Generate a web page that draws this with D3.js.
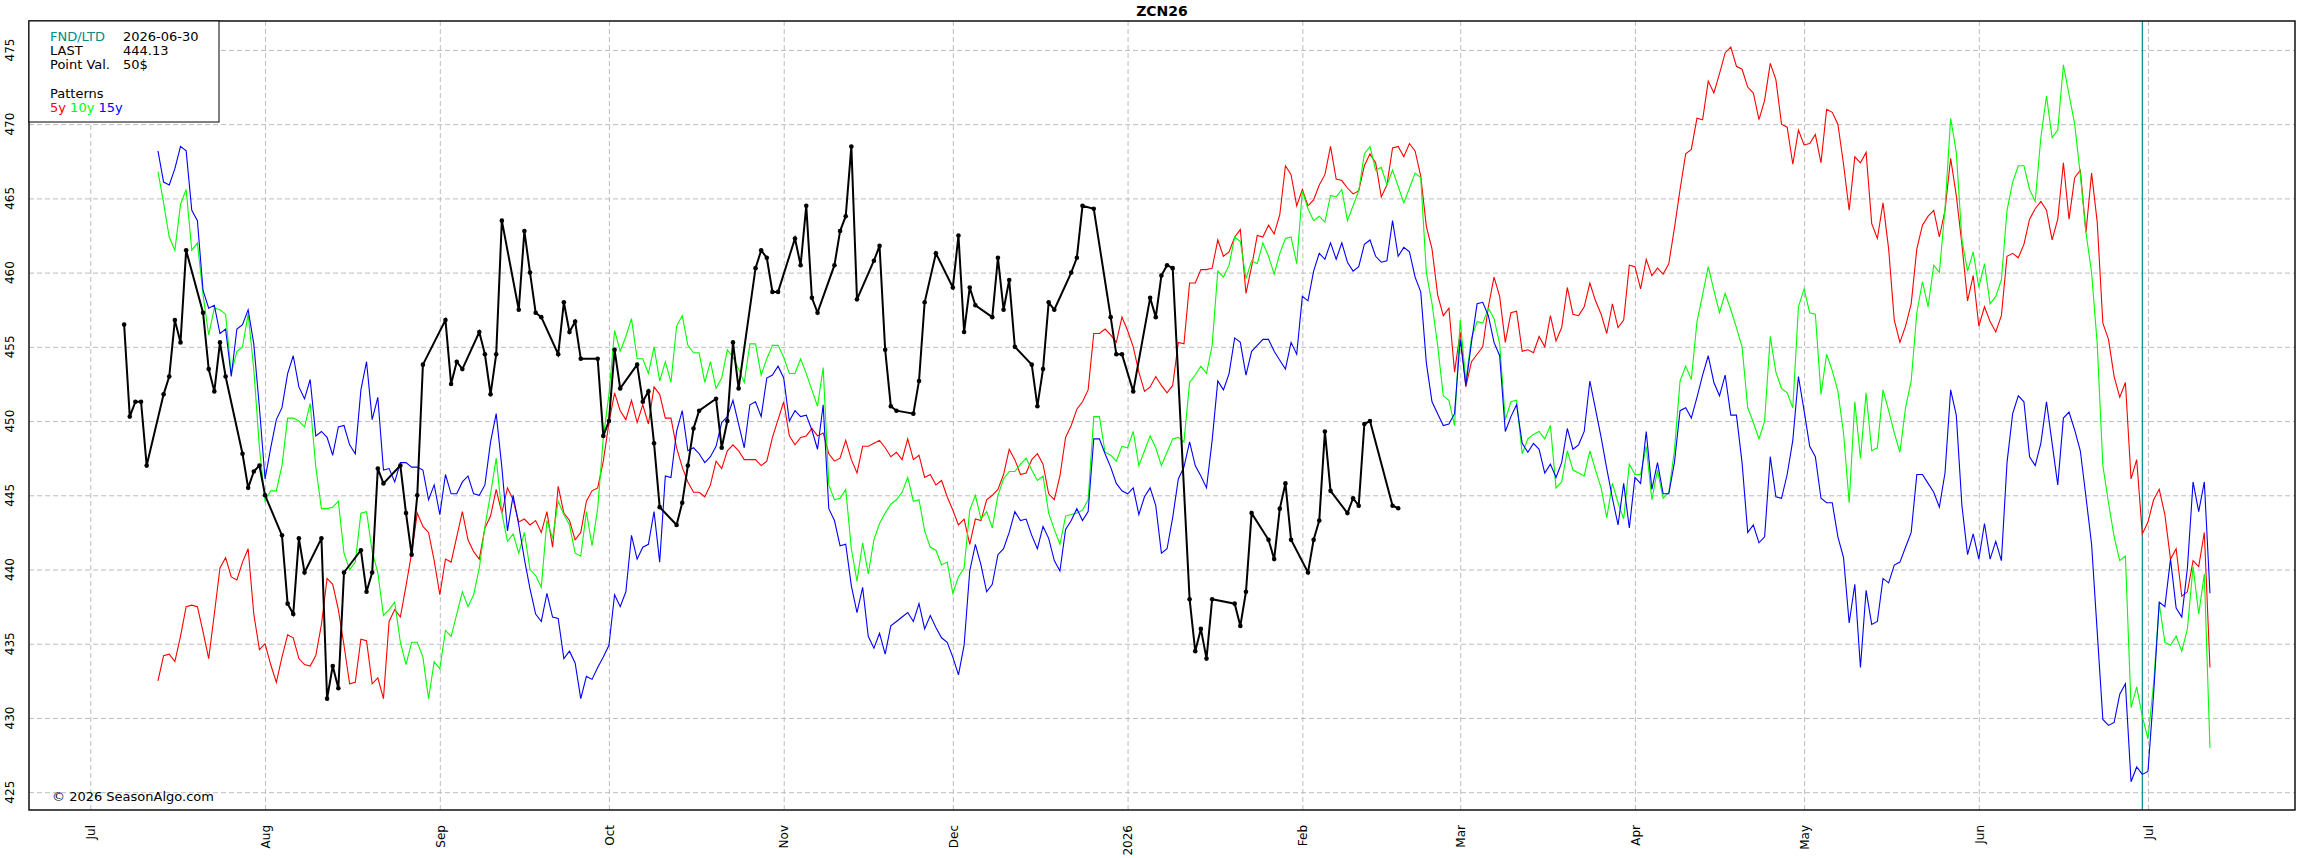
<!DOCTYPE html>
<html>
<head>
<meta charset="utf-8">
<script src="https://cdn.jsdelivr.net/npm/d3@7"></script>
<style>
  body { margin: 0; background: #fff; }
  text { font-family: "DejaVu Sans", sans-serif; }
</style>
</head>
<body>
<script>
// ZCN26 seasonal chart: actual contract (black) + 5y / 10y / 15y patterns

var title = "ZCN26";
var fndDate = "2026-06-30";
var lastPrice = "444.13";
var pointVal = "50$";

// month tick labels (Jan shows the year)
var monthTicks = ["2025-07-01","2025-08-01","2025-09-01","2025-10-01","2025-11-01","2025-12-01",
                  "2026-01-01","2026-02-01","2026-03-01","2026-04-01","2026-05-01","2026-06-01","2026-07-01"];
var monthLabels = ["Jul","Aug","Sep","Oct","Nov","Dec","2026","Feb","Mar","Apr","May","Jun","Jul"];
var yTicks = [425, 430, 435, 440, 445, 450, 455, 460, 465, 470, 475];

// patterns: one value per calendar day starting at patternStart
var patternStart = "2025-07-13";
var p5y = [
  // Jul 13-31
  432.5,434.2,434.3,433.8,435.5,437.5,437.6,437.5,435.8,434.0,437.0,440.1,440.8,439.5,439.3,440.5,441.4,437.0,434.6,
  // Aug
  435.0,433.6,432.4,434.1,435.6,435.4,434.0,433.6,433.5,434.2,436.3,439.4,439.0,437.3,434.9,432.3,432.4,435.3,435.2,432.3,
  432.7,431.3,436.5,437.3,436.8,438.9,441.1,443.8,442.9,442.5,440.6,
  // Sep
  438.3,440.7,440.5,442.2,443.9,442.0,441.2,440.7,442.8,443.6,445.4,443.8,445.5,444.7,443.2,443.4,443.0,443.3,442.5,443.9,
  441.5,445.6,443.8,443.3,442.0,442.5,444.6,445.3,445.5,447.3,
  // Oct
  449.9,451.9,450.7,450.1,451.4,449.9,451.1,449.8,452.3,451.8,450.2,450.2,448.2,446.9,445.9,445.2,445.2,444.9,445.7,447.3,
  446.8,448.0,448.4,448.0,447.4,447.4,447.4,447.0,447.3,448.9,450.1,
  // Nov
  451.3,449.0,448.4,448.9,449.0,449.5,449.0,449.2,447.8,447.3,447.5,448.7,447.4,446.5,448.3,448.3,448.5,448.7,448.2,447.6,
  447.9,447.4,448.8,447.4,447.7,446.2,446.4,445.7,446.0,444.9,
  // Dec
  444.0,443.0,443.4,441.7,443.4,443.3,444.7,445.0,445.4,446.4,448.1,447.4,446.4,446.5,447.4,447.8,447.1,445.1,444.7,446.3,
  448.9,449.7,450.8,451.3,452.1,455.9,455.9,456.2,455.8,455.3,457.0,
  // Jan
  456.1,455.0,453.3,452.0,452.3,453.0,452.4,451.9,452.4,455.3,455.2,459.3,459.3,460.2,460.2,460.3,462.2,461.1,461.4,462.4,
  462.9,458.6,460.4,462.5,462.4,463.2,462.6,463.9,467.2,466.6,464.5,
  // Feb
  465.6,464.5,464.9,465.9,466.6,468.5,466.3,466.2,465.7,465.3,465.5,467.2,468.0,467.4,465.1,465.9,468.4,468.5,467.8,468.7,
  468.2,466.5,463.1,461.6,458.5,457.1,457.6,453.3,
  // Mar
  456.0,452.3,454.0,454.5,455.0,457.7,459.7,458.4,455.3,457.3,457.4,454.7,454.8,454.6,455.7,455.0,457.1,455.4,456.3,459.0,
  457.2,457.1,457.7,459.3,458.1,457.2,455.9,457.9,456.3,456.8,460.5,
  // Apr
  460.4,458.9,460.9,459.8,460.3,459.9,460.6,463.0,465.6,468.0,468.3,470.4,470.3,472.9,472.1,473.4,474.8,475.2,473.9,473.7,
  472.5,472.1,470.3,471.6,474.1,473.0,470.0,469.8,467.3,469.6,
  // May
  468.6,468.7,469.3,467.4,471.0,470.8,470.0,467.3,464.2,467.8,467.4,468.1,463.3,462.3,464.7,461.6,456.8,455.3,456.4,457.9,
  461.6,463.2,463.8,464.2,462.4,464.2,467.7,465.2,461.9,458.1,459.8,
  // Jun
  456.4,457.7,456.7,456.0,457.1,461.1,461.3,461.0,461.9,463.6,464.3,464.8,464.2,462.2,463.6,467.4,463.6,466.4,466.9,462.7,
  466.7,463.4,456.6,455.5,453.0,451.6,452.6,446.1,447.4,442.4,
  // Jul 1-12
  443.2,444.7,445.4,443.7,440.7,441.4,438.2,438.5,440.6,440.2,442.5,433.4
];
var p10y = [
  466.8,464.7,462.4,461.5,464.6,465.6,461.5,462.0,458.5,455.8,457.6,457.5,457.2,453.2,454.7,455.0,457.2,453.5,448.2,
  444.6,445.3,445.3,447.0,450.2,450.2,450.0,449.6,451.2,446.9,444.1,444.1,444.2,444.6,441.1,440.0,440.5,443.8,443.9,441.2,
  439.8,436.9,437.3,437.8,435.1,433.6,435.1,435.1,434.1,431.3,433.8,
  433.3,435.9,435.5,437.0,438.5,437.5,438.3,440.1,442.9,445.1,447.5,443.8,441.9,442.4,441.1,442.5,440.0,439.6,438.8,443.3,
  442.1,444.6,443.7,443.0,441.1,440.9,443.9,441.6,444.1,448.9,
  451.8,456.1,454.7,455.7,456.9,454.2,454.2,453.2,455.0,452.7,454.0,452.6,456.4,457.1,455.1,454.6,454.6,452.6,454.0,452.2,
  452.9,454.8,454.3,453.5,452.6,455.2,455.2,453.1,454.2,455.1,455.1,
  454.3,453.2,453.2,454.2,453.2,452.1,451.0,453.6,445.7,444.7,444.8,445.4,441.4,439.2,441.8,439.7,442.0,443.1,443.8,444.4,
  444.7,445.2,446.2,444.6,444.7,442.6,441.5,441.3,440.3,440.5,
  438.4,439.5,440.1,444.0,445.0,443.4,443.9,442.8,445.0,446.1,446.6,446.6,447.1,447.5,446.7,446.0,446.3,443.8,442.7,441.7,
  443.6,443.7,443.8,444.0,444.7,450.3,450.3,447.9,447.7,447.3,448.3,
  448.2,449.3,447.0,448.0,449.0,448.2,447.0,447.9,448.8,448.9,448.6,452.6,453.1,453.7,453.2,455.1,460.1,459.7,460.5,462.4,
  462.1,459.6,460.8,460.6,462.0,461.1,459.9,461.3,462.3,462.4,460.6,
  465.5,464.3,463.5,463.8,463.4,465.2,465.1,465.6,463.5,464.5,465.5,468.0,468.5,466.9,467.1,465.9,466.9,465.8,464.7,465.7,
  466.7,466.4,460.0,457.9,455.1,451.7,451.4,449.7,
  456.8,452.7,455.6,456.7,456.6,457.6,456.9,455.2,450.1,451.3,451.4,447.8,448.8,449.1,449.3,448.8,449.7,445.5,445.9,448.0,
  446.7,446.5,446.3,448.0,446.7,445.5,443.5,445.8,444.5,443.4,447.1,
  446.4,446.4,448.3,444.7,446.7,444.8,445.2,448.0,452.7,453.7,452.8,456.7,458.5,460.4,458.8,457.3,458.6,457.5,456.3,455.0,
  450.9,449.9,448.8,450.0,455.7,453.3,452.2,451.9,450.9,457.7,
  458.9,457.3,457.2,451.8,454.5,453.4,452.0,449.2,444.5,451.3,447.5,451.9,448.0,448.2,452.1,450.7,449.2,447.9,450.9,452.7,
  457.3,459.4,457.7,460.5,460.0,464.3,470.4,468.1,462.2,460.1,461.4,
  459.0,460.6,457.9,458.4,459.5,464.2,466.1,467.2,467.2,465.6,464.8,469.1,471.9,469.1,469.6,474.0,472.0,470.0,466.6,462.7,
  460.0,455.2,447.0,444.5,442.2,440.6,440.9,430.7,432.1,430.1,
  428.6,432.3,437.7,435.1,434.9,435.5,434.5,436.0,440.2,437.0,439.7,428.0
];
var p15y = [
  468.2,466.1,465.9,467.0,468.5,468.2,464.2,463.5,458.8,457.6,457.8,455.9,456.2,453.0,456.2,456.5,457.5,455.2,450.9,
  446.1,448.2,450.1,450.9,453.2,454.4,452.3,451.5,452.8,449.0,449.3,448.9,447.7,449.6,449.7,448.4,447.8,452.1,454.0,450.1,
  451.6,446.7,446.8,445.9,447.2,447.2,446.9,446.9,446.7,444.7,445.7,
  443.7,446.4,445.1,445.1,445.9,446.3,445.1,445.0,445.7,448.6,450.5,446.9,442.6,445.0,443.0,440.7,438.7,437.0,436.5,438.4,
  436.8,436.7,434.0,434.5,433.7,431.3,432.8,432.6,433.4,434.1,
  434.9,438.3,437.5,438.5,442.3,440.7,441.5,441.7,443.9,440.5,446.3,446.2,449.3,450.7,448.0,448.2,447.8,447.2,447.6,448.3,
  449.9,450.3,451.4,449.8,448.2,451.1,451.3,450.3,452.9,453.1,453.7,
  452.9,450.0,450.7,450.3,450.4,449.4,448.1,451.1,444.1,443.3,441.6,441.7,438.9,437.1,438.8,435.5,434.7,435.7,434.3,436.2,
  436.5,436.8,437.1,436.5,437.7,436.0,436.9,436.1,435.4,435.1,
  434.1,432.9,434.9,439.9,441.7,440.3,438.5,439.0,441.0,441.4,442.5,443.9,443.3,443.4,442.3,441.4,442.9,442.1,440.6,439.9,
  442.7,443.3,444.1,443.3,443.9,448.8,448.8,447.8,446.9,445.8,445.3,
  445.1,445.5,443.7,444.9,445.5,444.3,441.1,441.4,443.5,446.1,446.9,448.6,447.0,446.3,445.5,448.7,452.7,452.1,453.2,455.6,
  455.3,453.1,454.7,455.1,455.5,455.5,454.7,454.1,453.5,455.3,454.5,
  458.4,458.1,460.1,461.3,460.9,462.0,460.9,462.0,460.7,460.1,460.4,461.9,462.2,461.1,460.7,460.8,463.5,461.1,461.7,461.4,
  459.7,458.7,453.9,451.3,450.5,449.7,449.8,450.5,
  455.5,452.4,455.3,457.9,458.0,457.1,455.3,454.4,449.3,450.3,451.1,448.5,447.9,448.5,448.1,446.5,447.1,446.2,447.2,449.5,
  448.1,448.4,449.3,452.7,450.8,448.9,446.8,444.8,443.0,445.8,442.8,
  446.2,445.8,449.3,445.4,447.2,445.1,445.1,447.2,450.7,450.9,450.2,451.6,453.1,454.4,452.6,451.7,453.1,450.4,450.4,447.2,
  442.5,443.0,441.8,442.2,447.6,444.9,444.8,446.4,448.7,453.0,
  450.7,448.3,447.6,444.8,444.5,444.5,442.2,440.8,436.4,439.0,433.4,438.6,436.3,436.5,439.4,439.1,440.3,440.5,441.5,442.5,
  446.4,446.4,445.8,445.2,444.2,446.5,452.1,450.4,444.3,441.0,442.4,
  440.7,443.1,440.7,441.9,440.6,447.2,450.5,451.7,451.3,447.6,447.0,448.5,451.3,448.5,445.7,450.2,450.6,449.4,448.0,444.9,
  441.7,435.8,429.9,429.5,429.7,431.6,432.3,425.7,426.7,426.2,
  426.4,431.6,437.8,437.5,440.7,437.4,436.8,440.1,445.9,443.9,445.9,438.4
];

// actual ZCN26 daily closes
var actualDates = [
  "2025-07-07","2025-07-08","2025-07-09","2025-07-10","2025-07-11","2025-07-14","2025-07-15","2025-07-16","2025-07-17","2025-07-18",
  "2025-07-21","2025-07-22","2025-07-23","2025-07-24","2025-07-25","2025-07-28","2025-07-29","2025-07-30","2025-07-31","2025-08-01",
  "2025-08-04","2025-08-05","2025-08-06","2025-08-07","2025-08-08","2025-08-11","2025-08-12","2025-08-13","2025-08-14","2025-08-15",
  "2025-08-18","2025-08-19","2025-08-20","2025-08-21","2025-08-22","2025-08-25","2025-08-26","2025-08-27","2025-08-28","2025-08-29",
  "2025-09-02","2025-09-03","2025-09-04","2025-09-05","2025-09-08","2025-09-09","2025-09-10","2025-09-11","2025-09-12","2025-09-15",
  "2025-09-16","2025-09-17","2025-09-18","2025-09-19","2025-09-22","2025-09-23","2025-09-24","2025-09-25","2025-09-26","2025-09-29",
  "2025-09-30","2025-10-01","2025-10-02","2025-10-03","2025-10-06","2025-10-07","2025-10-08","2025-10-09","2025-10-10","2025-10-13",
  "2025-10-14","2025-10-15","2025-10-16","2025-10-17","2025-10-20","2025-10-21","2025-10-22","2025-10-23","2025-10-24","2025-10-27",
  "2025-10-28","2025-10-29","2025-10-30","2025-10-31","2025-11-03","2025-11-04","2025-11-05","2025-11-06","2025-11-07","2025-11-10",
  "2025-11-11","2025-11-12","2025-11-13","2025-11-14","2025-11-17","2025-11-18","2025-11-19","2025-11-20","2025-11-21","2025-11-24",
  "2025-11-25","2025-11-26","2025-11-28","2025-12-01","2025-12-02","2025-12-03","2025-12-04","2025-12-05","2025-12-08","2025-12-09",
  "2025-12-10","2025-12-11","2025-12-12","2025-12-15","2025-12-16","2025-12-17","2025-12-18","2025-12-19","2025-12-22","2025-12-23",
  "2025-12-24","2025-12-26","2025-12-29","2025-12-30","2025-12-31","2026-01-02","2026-01-05","2026-01-06","2026-01-07","2026-01-08",
  "2026-01-09","2026-01-12","2026-01-13","2026-01-14","2026-01-15","2026-01-16","2026-01-20","2026-01-21","2026-01-22","2026-01-23",
  "2026-01-26","2026-01-27","2026-01-28","2026-01-29","2026-01-30","2026-02-02","2026-02-03","2026-02-04","2026-02-05","2026-02-06",
  "2026-02-09","2026-02-10","2026-02-11","2026-02-12","2026-02-13","2026-02-17","2026-02-18"
];
var actualVals = [
  456.5,450.3,451.3,451.3,447.0,451.8,453.0,456.8,455.3,461.5,
  457.3,453.5,452.0,455.3,453.0,447.8,445.5,446.6,447.0,445.0,
  442.3,437.7,437.0,442.1,439.8,442.1,431.3,433.5,432.0,439.8,
  441.3,438.5,439.8,446.8,445.8,447.0,443.8,441.0,445.0,453.8,
  456.8,452.5,454.0,453.5,456.0,454.5,451.8,454.5,463.5,457.5,
  462.8,460.0,457.3,457.0,454.5,458.0,456.0,456.7,454.2,454.2,
  449.0,450.0,454.8,452.2,453.8,451.3,452.0,448.5,444.2,443.0,
  444.5,447.0,449.5,450.7,451.5,448.2,450.0,455.3,452.2,460.3,
  461.5,461.0,458.7,458.7,462.3,460.5,464.5,458.3,457.3,460.5,
  462.8,463.8,468.5,458.2,460.8,461.8,454.8,451.0,450.7,450.5,
  452.7,458.0,461.3,459.0,462.5,456.0,459.0,457.8,457.0,461.0,
  457.5,459.5,455.0,453.8,451.0,453.5,458.0,457.5,460.0,461.0,
  464.5,464.3,457.0,454.5,454.5,452.0,458.3,457.0,459.8,460.5,
  460.3,438.0,434.5,436.0,434.0,438.0,437.7,436.2,438.5,443.8,
  442.0,440.7,444.1,445.8,442.0,439.8,442.0,443.3,449.3,445.3,
  443.8,444.8,444.3,449.8,450.0,444.3,444.13
];

var W = 2302, H = 858;
var M = {left: 29, right: 7, top: 21, bottom: 48};
var parse = d3.utcParse("%Y-%m-%d");

var svg = d3.select("body").append("svg")
    .attr("width", W)
    .attr("height", H)
    .style("display", "block");
svg.append("rect").attr("width", W).attr("height", H).attr("fill", "#fff");

// scales
var x = d3.scaleUtc()
    .domain([Date.UTC(2025, 5, 20, 3), Date.UTC(2026, 6, 27, 2)])
    .range([M.left, W - M.right]);
var y = d3.scaleLinear()
    .domain([423.8, 476.95])
    .range([H - M.bottom, M.top]);

var plotW = W - M.left - M.right, plotH = H - M.top - M.bottom;

// grid, vertical (months)
svg.append("g")
    .attr("class", "xgrid")
    .attr("transform", "translate(0," + (H - M.bottom) + ")")
    .call(d3.axisBottom(x).tickValues(monthTicks.map(parse)).tickSize(-plotH).tickFormat(""))
    .call(function (g) { g.select(".domain").remove(); });
// grid, horizontal
svg.append("g")
    .attr("class", "ygrid")
    .attr("transform", "translate(" + M.left + ",0)")
    .call(d3.axisLeft(y).tickValues(yTicks).tickSize(-plotW).tickFormat(""))
    .call(function (g) { g.select(".domain").remove(); });
svg.selectAll(".xgrid line, .ygrid line")
    .attr("stroke", "#bdbdbd")
    .attr("stroke-width", 1)
    .attr("stroke-dasharray", "5,3");

// x labels (rotated)
var xa = svg.append("g")
    .attr("transform", "translate(0," + (H - M.bottom) + ")")
    .call(d3.axisBottom(x).tickValues(monthTicks.map(parse)).tickSize(0)
        .tickFormat(function (d, i) { return monthLabels[i]; }));
xa.select(".domain").remove();
xa.selectAll("text")
    .attr("transform", "rotate(-90)")
    .attr("x", -15)
    .attr("y", 0)
    .attr("dy", "0.35em")
    .attr("text-anchor", "end")
    .attr("font-size", 12)
    .attr("font-family", "DejaVu Sans")
    .attr("fill", "#000");

// y labels (rotated)
var ya = svg.append("g")
    .attr("transform", "translate(" + M.left + ",0)")
    .call(d3.axisLeft(y).tickValues(yTicks).tickSize(0));
ya.select(".domain").remove();
ya.selectAll("text")
    .attr("transform", "rotate(-90)")
    .attr("x", 0)
    .attr("y", -19)
    .attr("dy", "0.35em")
    .attr("text-anchor", "middle")
    .attr("font-size", 12)
    .attr("font-family", "DejaVu Sans")
    .attr("fill", "#000");
// rotated text is placed about its own origin, so put it at the tick
ya.selectAll(".tick").each(function (d) {
    d3.select(this).attr("transform", "translate(0," + y(d) + ")");
});

// FND line
svg.append("line")
    .attr("x1", x(parse(fndDate))).attr("x2", x(parse(fndDate)))
    .attr("y1", M.top).attr("y2", H - M.bottom)
    .attr("stroke", "#008b8b")
    .attr("stroke-width", 1.2);

// pattern lines
var pStart = parse(patternStart);
function patLine(vals) {
    return d3.line()
        .x(function (d, i) { return x(d3.utcDay.offset(pStart, i)); })
        .y(function (d) { return y(d); })(vals);
}
[[p5y, "#ff0000"], [p10y, "#00ff00"], [p15y, "#0000ff"]].forEach(function (s) {
    svg.append("path")
        .attr("d", patLine(s[0]))
        .attr("fill", "none")
        .attr("stroke", s[1])
        .attr("stroke-width", 1.1);
});

// actual contract
var actual = actualDates.map(function (d, i) { return {date: parse(d), v: actualVals[i]}; });
svg.append("path")
    .datum(actual)
    .attr("d", d3.line().x(function (d) { return x(d.date); }).y(function (d) { return y(d.v); }))
    .attr("fill", "none")
    .attr("stroke", "#000")
    .attr("stroke-width", 2);
svg.selectAll("circle.pt").data(actual).enter().append("circle")
    .attr("class", "pt")
    .attr("r", 2.3)
    .attr("cx", function (d) { return x(d.date); })
    .attr("cy", function (d) { return y(d.v); })
    .attr("fill", "#000");

// frame
svg.append("rect")
    .attr("x", M.left).attr("y", M.top)
    .attr("width", plotW).attr("height", plotH)
    .attr("fill", "none")
    .attr("stroke", "#111")
    .attr("stroke-width", 1.5);

// title
svg.append("text")
    .attr("x", M.left + plotW / 2)
    .attr("y", 16)
    .attr("text-anchor", "middle")
    .attr("font-size", 14)
    .attr("font-weight", "bold")
    .text(title);

// info box
var lg = svg.append("g");
lg.append("rect")
    .attr("x", M.left).attr("y", M.top)
    .attr("width", 190).attr("height", 101)
    .attr("fill", "#fff")
    .attr("stroke", "#000")
    .attr("stroke-width", 1);
var rows = [
    ["FND/LTD", fndDate, "#008b8b", 41],
    ["LAST", lastPrice, "#000", 55],
    ["Point Val.", pointVal, "#000", 69]
];
rows.forEach(function (r) {
    lg.append("text").attr("x", 50).attr("y", r[3]).attr("font-size", 13).attr("fill", r[2]).text(r[0]);
    lg.append("text").attr("x", 123).attr("y", r[3]).attr("font-size", 13).attr("fill", "#000").text(r[1]);
});
lg.append("text").attr("x", 50).attr("y", 98).attr("font-size", 13).text("Patterns");
var pt = lg.append("text").attr("x", 50).attr("y", 112).attr("font-size", 13);
pt.append("tspan").attr("fill", "#ff0000").text("5y ");
pt.append("tspan").attr("fill", "#00ff00").text("10y ");
pt.append("tspan").attr("fill", "#0000ff").text("15y");

// copyright
svg.append("text")
    .attr("x", 52)
    .attr("y", 801)
    .attr("font-size", 13)
    .attr("fill", "#000")
    .text("\u00a9 2026 SeasonAlgo.com");
</script>
</body>
</html>
